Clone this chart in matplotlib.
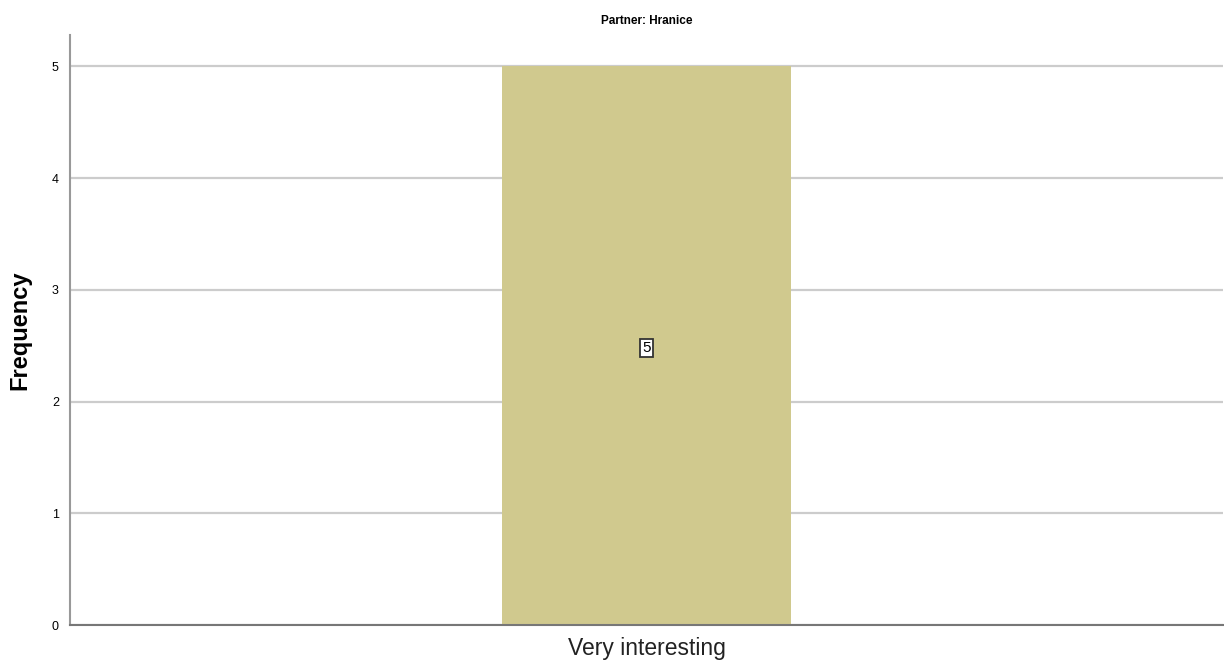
import matplotlib
matplotlib.use("Agg")
import matplotlib.pyplot as plt

categories = ["Very interesting"]
frequencies = [5]
yticks = [0, 1, 2, 3, 4, 5]

plt.rcParams['font.family'] = ['Liberation Sans', 'DejaVu Sans']

fig = plt.figure(figsize=(12.24, 6.64), dpi=100)
ax = fig.add_axes([70/1224, 39/664, 1153/1224, 590/664])

xs = list(range(len(categories)))
bars = ax.bar(xs, frequencies, width=1.0, color='#d0c98e', zorder=2)
for x, v in zip(xs, frequencies):
    ax.text(x, v/2 - 0.02, str(v), ha='center', va='center', fontsize=11, zorder=3,
            bbox=dict(boxstyle='square,pad=0.15', fc='white', ec='#333333', lw=1.3))

ax.set_xlim(-2, 2)
ax.set_ylim(0, 5.28)
ax.set_yticks(yticks)
ax.set_yticklabels([str(t) for t in yticks], fontsize=9)
ax.set_xticks(xs)
ax.set_xticklabels(categories, fontsize=16.5, color='#222222')
ax.tick_params(axis='x', length=0, pad=9)
ax.tick_params(axis='y', length=0, pad=8)
ax.grid(axis='y', color='#cccccc', lw=1.6, zorder=1)

for s in ['top', 'right']:
    ax.spines[s].set_visible(False)
ax.spines['left'].set_color('#999999')
ax.spines['left'].set_linewidth(1.5)
ax.spines['bottom'].set_color('#777777')
ax.spines['bottom'].set_linewidth(1.5)
ax.spines['bottom'].set_zorder(4)

fig.text(20/1224, 1 - 330/664, 'Frequency', ha='center', va='center',
         rotation=90, fontsize=17, fontweight='bold')
fig.text(0.5281, 0.968, 'Partner: Hranice', ha='center', va='center',
         fontsize=8.5, fontweight='bold')

fig.savefig('out.png', dpi=100)
